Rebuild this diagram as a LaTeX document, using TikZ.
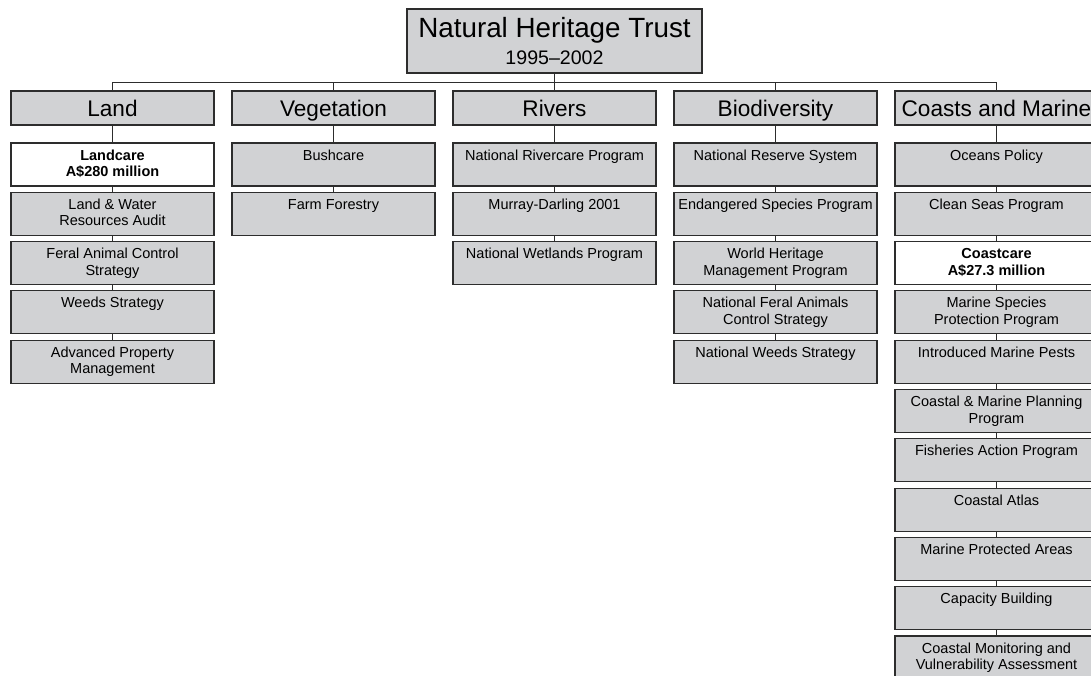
\documentclass[tikz,border=0pt]{standalone}
\usepackage{fontspec}
\setmainfont{Liberation Sans}
\definecolor{boxgray}{RGB}{209,210,212}
\definecolor{edge}{RGB}{45,45,45}
\newcommand\bxt[1]{\parbox[t][43pt][t]{203pt}{\centering\fontsize{14.5}{16.5}\selectfont\rule{0pt}{17pt}#1}}
\newcommand\sub[5]{\node[#4] (#1) at ({11+221*#2},{143+49.3*#3}) {\bxt{#5}};}
\tikzset{
  box/.style={draw=edge, line width=1.1pt, fill=boxgray, inner sep=0pt, outer sep=0pt, anchor=north west},
  wbox/.style={box, fill=white},
  cat/.style={draw=edge, line width=1.1pt, fill=boxgray, minimum width=203pt, minimum height=34pt, inner sep=0pt, outer sep=0pt, anchor=north west, text height=20pt, text depth=4pt, font=\fontsize{22.6}{27}\selectfont},
  conn/.style={draw=edge, line width=1pt}
}
\begin{document}
\begin{tikzpicture}[x=1pt,y=-1pt]
\useasboundingbox (0,0) rectangle (1091,675);
\fill[white] (0,0) rectangle (1091,675);
\clip (0,0) rectangle (1091,675);
% title
\node[draw=edge, line width=1.1pt, fill=boxgray, inner sep=0pt, outer sep=0pt, anchor=north west] (title) at (407,9)
  {\parbox[t][64pt][t]{295pt}{\centering\fontsize{27.8}{27}\selectfont\rule{0pt}{28pt}Natural Heritage Trust\\\fontsize{19.6}{27}\selectfont 1995–2002}};
\coordinate (bus) at (554.5,82);
% categories
\node[cat] (land) at (11,91) {Land};
\node[cat] (veg) at (232,91) {Vegetation};
\node[cat] (riv) at (453,91) {Rivers};
\node[cat] (bio) at (674,91) {Biodiversity};
\node[cat] (coa) at (895,91) {Coasts and Marine};
% Land
\sub{l1}{0}{0}{wbox}{\bfseries Landcare\\A\$280 million}
\sub{l2}{0}{1}{box}{Land \& Water\\Resources Audit}
\sub{l3}{0}{2}{box}{Feral Animal Control\\Strategy}
\sub{l4}{0}{3}{box}{Weeds Strategy}
\sub{l5}{0}{4}{box}{Advanced Property\\Management}
% Vegetation
\sub{v1}{1}{0}{box}{Bushcare}
\sub{v2}{1}{1}{box}{Farm Forestry}
% Rivers
\sub{r1}{2}{0}{box}{National Rivercare Program}
\sub{r2}{2}{1}{box}{Murray-Darling 2001}
\sub{r3}{2}{2}{box}{National Wetlands Program}
% Biodiversity
\sub{b1}{3}{0}{box}{National Reserve System}
\sub{b2}{3}{1}{box}{Endangered Species Program}
\sub{b3}{3}{2}{box}{World Heritage\\Management Program}
\sub{b4}{3}{3}{box}{National Feral Animals\\Control Strategy}
\sub{b5}{3}{4}{box}{National Weeds Strategy}
% Coasts and Marine
\sub{m1}{4}{0}{box}{Oceans Policy}
\sub{m2}{4}{1}{box}{Clean Seas Program}
\sub{m3}{4}{2}{wbox}{\bfseries Coastcare\\A\$27.3 million}
\sub{m4}{4}{3}{box}{Marine Species\\Protection Program}
\sub{m5}{4}{4}{box}{Introduced Marine Pests}
\sub{m6}{4}{5}{box}{Coastal \& Marine Planning\\Program}
\sub{m7}{4}{6}{box}{Fisheries Action Program}
\sub{m8}{4}{7}{box}{Coastal Atlas}
\sub{m9}{4}{8}{box}{Marine Protected Areas}
\sub{m10}{4}{9}{box}{Capacity Building}
\sub{m11}{4}{10}{box}{Coastal Monitoring and\\Vulnerability Assessment}
% connectors
\draw[conn] (title.south) -- (bus);
\draw[conn] (land.north) -- (land.north |- bus) -- (coa.north |- bus) -- (coa.north);
\draw[conn] (veg.north) -- (veg.north |- bus);
\draw[conn] (riv.north) -- (riv.north |- bus);
\draw[conn] (bio.north) -- (bio.north |- bus);
\foreach \a/\b in {land/l1,l1/l2,l2/l3,l3/l4,l4/l5,
  veg/v1,v1/v2,
  riv/r1,r1/r2,r2/r3,
  bio/b1,b1/b2,b2/b3,b3/b4,b4/b5,
  coa/m1,m1/m2,m2/m3,m3/m4,m4/m5,m5/m6,m6/m7,m7/m8,m8/m9,m9/m10,m10/m11}
  \draw[conn] (\a.south) -- (\b.north);
\end{tikzpicture}
\end{document}
